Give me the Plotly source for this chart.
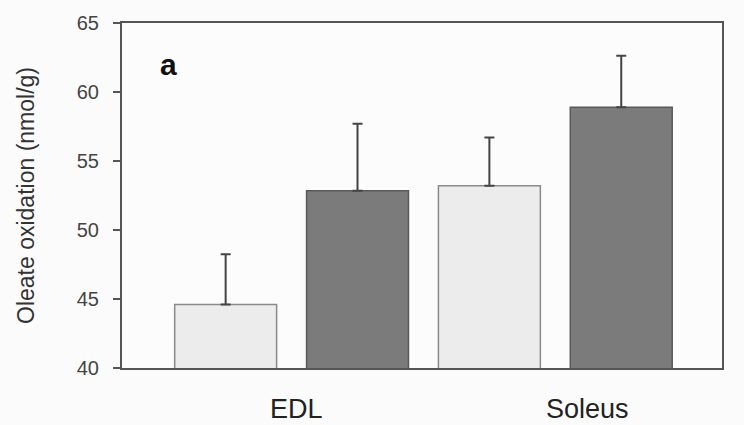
import plotly.graph_objects as go

muscles = ["EDL", "Soleus"]
light_vals = [44.6, 53.2]
light_err = [3.65, 3.5]
dark_vals = [52.85, 58.9]
dark_err = [4.85, 3.72]
y_ticks = [40, 45, 50, 55, 60, 65]

pos = list(range(len(muscles)))
font = "Liberation Sans, Arial, sans-serif"

fig = go.Figure()

fig.add_trace(go.Bar(
    x=pos,
    y=light_vals,
    marker=dict(color="#ececec", line=dict(color="#8a8a8a", width=1.5)),
    error_y=dict(type="data", array=light_err, arrayminus=[0] * len(light_err),
                 color="#444444", thickness=2, width=5),
    showlegend=False,
))

fig.add_trace(go.Bar(
    x=pos,
    y=dark_vals,
    marker=dict(color="#7b7b7b", line=dict(color="#5a5a5a", width=1.5)),
    error_y=dict(type="data", array=dark_err, arrayminus=[0] * len(dark_err),
                 color="#444444", thickness=2, width=5),
    showlegend=False,
))

# panel letter
fig.add_annotation(
    text="<b>a</b>", x=0.0775, y=0.88, xref="paper", yref="paper",
    xanchor="center", yanchor="middle",
    showarrow=False, font=dict(family=font, size=30, color="#111111"),
)

fig.update_xaxes(
    range=[-0.643, 1.632],
    tickvals=[0.018, 1.121],
    ticktext=muscles,
    ticks="outside",
    ticklen=16,
    tickcolor="rgba(0,0,0,0)",
    tickfont=dict(family=font, size=27, color="#222222"),
    showline=True, mirror=True, linecolor="#555555", linewidth=2,
    showgrid=False, zeroline=False,
    automargin=False,
)

fig.update_yaxes(
    range=[40, 65],
    tickvals=y_ticks,
    ticks="outside", ticklen=7, tickwidth=1.5, tickcolor="#555555",
    ticklabelstandoff=10,
    tickfont=dict(family=font, size=20, color="#444444"),
    showline=True, mirror=True, linecolor="#555555", linewidth=2,
    showgrid=False, zeroline=False,
    automargin=False,
    title=dict(text="Oleate oxidation (nmol/g)", standoff=36,
               font=dict(family=font, size=23, color="#333333")),
)

fig.update_layout(
    width=744, height=425,
    barmode="group",
    bargap=0,
    bargroupgap=0.227,
    margin=dict(l=122, r=22, t=23, b=57),
    paper_bgcolor="#fbfbfb",
    plot_bgcolor="#fcfcfc",
)

fig.write_html("out.html", config=dict(displayModeBar=False),
               post_script="document.body.style.margin='0';")
